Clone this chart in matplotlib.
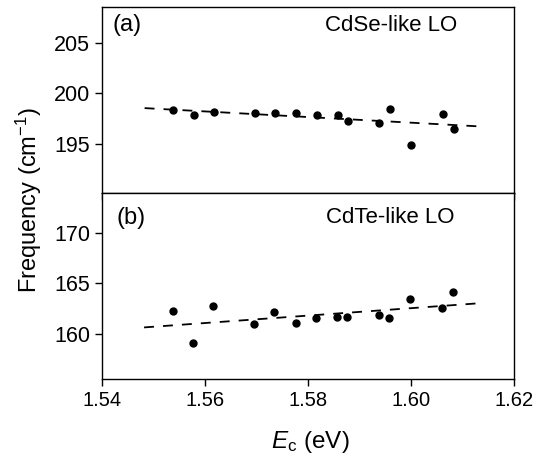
import matplotlib
matplotlib.use('Agg')
import matplotlib.pyplot as plt

# --- Data ---

# CdSe-like LO mode (panel a)
ec_se = [1.5538, 1.5579, 1.5617, 1.5697, 1.5737, 1.5777, 1.5817,
         1.5858, 1.5878, 1.5938, 1.5960, 1.6001, 1.6062, 1.6084]
freq_se = [198.37, 197.80, 198.17, 198.04, 198.04, 198.04, 197.87,
           197.80, 197.30, 197.05, 198.47, 194.90, 197.97, 196.50]
fit_se_x = [1.5483, 1.6134]
fit_se_y = [198.53, 196.71]

# CdTe-like LO mode (panel b)
ec_te = [1.5538, 1.5577, 1.5616, 1.5695, 1.5735, 1.5776, 1.5816,
         1.5856, 1.5876, 1.5938, 1.5958, 1.5999, 1.6061, 1.6082]
freq_te = [162.28, 159.04, 162.74, 160.96, 162.15, 161.02, 161.52,
           161.62, 161.68, 161.82, 161.55, 163.43, 162.54, 164.13]
fit_te_x = [1.5482, 1.6134]
fit_te_y = [160.63, 163.04]

x_ticks = [1.54, 1.56, 1.58, 1.60, 1.62]
x_tick_labels = ['1.54', '1.56', '1.58', '1.60', '1.62']
y_ticks_se = [195, 200, 205]
y_ticks_te = [160, 165, 170]

# --- Plotting ---

plt.rcParams['font.family'] = ['Liberation Sans', 'DejaVu Sans']
plt.rcParams['mathtext.fontset'] = 'custom'
plt.rcParams['mathtext.rm'] = 'Liberation Sans'
plt.rcParams['mathtext.it'] = 'Liberation Sans:italic'

fig = plt.figure(figsize=(5.36, 4.61), dpi=100)
ax1 = fig.add_axes([0.190, 0.5813, 0.769, 0.4042])
ax2 = fig.add_axes([0.190, 0.1779, 0.769, 0.4034])

for ax, xs, ys, fx, fy in [(ax1, ec_se, freq_se, fit_se_x, fit_se_y),
                           (ax2, ec_te, freq_te, fit_te_x, fit_te_y)]:
    ax.plot(fx, fy, color='black', lw=1.3, ls=(0, (5.5, 5)))
    ax.plot(xs, ys, 'o', color='black', ms=5)
    ax.set_xlim(1.54, 1.62)
    ax.set_xticks(x_ticks)
    for s in ax.spines.values():
        s.set_linewidth(1.0)
    ax.tick_params(direction='out', length=5, width=1.0)
    ax.tick_params(axis='y', labelsize=15.5)
    ax.tick_params(axis='x', labelsize=14.5)

ax1.set_ylim(190.1, 208.6)
ax1.set_yticks(y_ticks_se)
ax1.tick_params(axis='x', labelbottom=False)

ax2.set_ylim(155.5, 174.0)
ax2.set_yticks(y_ticks_te)
ax2.set_xticklabels(x_tick_labels)

ax1.text(0.027, 0.90, '(a)', transform=ax1.transAxes, fontsize=17, va='center')
ax1.text(0.541, 0.90, 'CdSe-like LO', transform=ax1.transAxes, fontsize=16, va='center')
ax2.text(0.036, 0.866, '(b)', transform=ax2.transAxes, fontsize=17, va='center')
ax2.text(0.544, 0.866, 'CdTe-like LO', transform=ax2.transAxes, fontsize=16, va='center')

fig.text(0.054, 1 - 200 / 461, 'Frequency (cm$^{-1}$)', rotation=90,
         ha='center', va='center', fontsize=17)
fig.text(310 / 536, 1 - 442 / 461, '$E$$_{\\mathrm{c}}$ (eV)',
         ha='center', va='center', fontsize=17.5)

fig.savefig('out.png', dpi=100)
